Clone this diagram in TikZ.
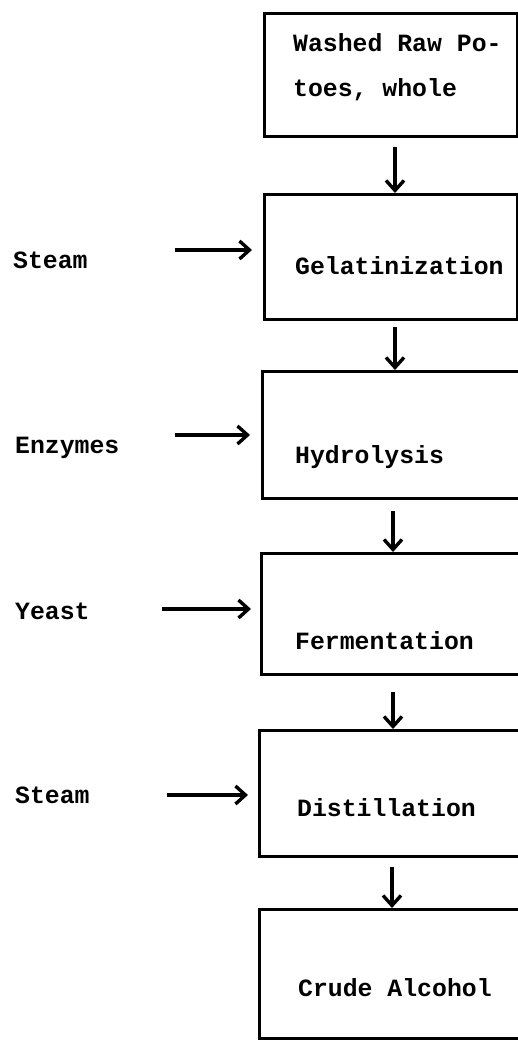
\documentclass[tikz,border=0pt]{standalone}
\usepackage{fontspec}
\setmainfont{Liberation Mono}
\usetikzlibrary{arrows.meta}
\begin{document}
\begin{tikzpicture}[x=1pt,y=-1pt,
  box/.style={draw, line width=3.2pt, inner sep=0pt, anchor=north west},
  txt/.style={anchor=base west, inner sep=0pt, font=\bfseries\fontsize{24.8}{47}\selectfont},
  arr/.style={line width=3.4pt, -{Straight Barb[length=10pt,width=18pt]}}]
\useasboundingbox (0,0) rectangle (518,1040);
\clip (0,0) rectangle (518,1040);
% boxes
\node[box, minimum width=253pt, minimum height=123pt] (b1) at (263,12) {};
\node[box, minimum width=253pt, minimum height=125pt] (b2) at (263,193) {};
\node[box, minimum width=270pt, minimum height=127pt] (b3) at (261,370) {};
\node[box, minimum width=270pt, minimum height=121pt] (b4) at (260,552) {};
\node[box, minimum width=272pt, minimum height=126pt] (b5) at (258,729) {};
\node[box, minimum width=272pt, minimum height=129pt] (b6) at (258,908) {};
% box texts
\node[txt] (t1a) at (293,52) {Washed Raw Po-};
\node[txt] (t1b) at (293,97) {toes, whole};
\node[txt] (t2) at (295,275) {Gelatinization};
\node[txt] (t3) at (295,463) {Hydrolysis};
\node[txt] (t4) at (295,649) {Fermentation};
\node[txt] (t5) at (297,816) {Distillation};
\node[txt] (t6) at (298,996) {Crude Alcohol};
% inputs
\node[txt] (i2) at (13,269) {Steam};
\node[txt] (i3) at (15,453) {Enzymes};
\node[txt] (i4) at (15,619) {Yeast};
\node[txt] (i5) at (15,803) {Steam};
\coordinate (s2) at (175,250);
\coordinate (s3) at (175,435);
\coordinate (s4) at (162,609);
\coordinate (s5) at (167,795);
\draw[arr, shorten >=11pt] (s2) -- (s2 -| b2.west);
\draw[arr, shorten >=11pt] (s3) -- (s3 -| b3.west);
\draw[arr, shorten >=9pt] (s4) -- (s4 -| b4.west);
\draw[arr, shorten >=10pt] (s5) -- (s5 -| b5.west);
% down arrows
\coordinate (d1) at (395,147);
\coordinate (d2) at (395,327);
\coordinate (d3) at (393,511);
\coordinate (d4) at (393,692);
\coordinate (d5) at (392,867);
\draw[arr] (d1) -- (d1 |- b2.north);
\draw[arr] (d2) -- (d2 |- b3.north);
\draw[arr] (d3) -- (d3 |- b4.north);
\draw[arr] (d4) -- (d4 |- b5.north);
\draw[arr] (d5) -- (d5 |- b6.north);
\end{tikzpicture}
\end{document}
